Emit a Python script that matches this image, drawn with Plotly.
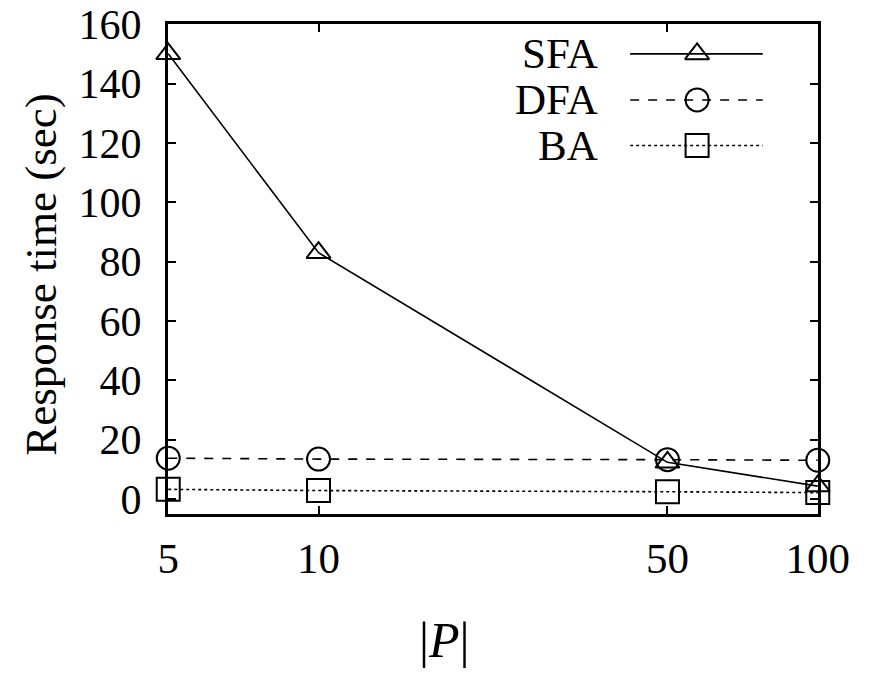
import plotly.graph_objects as go
import math

# Data
p_sizes = [5, 10, 50, 100]
sfa = [150, 83, 12.4, 4.4]
dfa = [13.8, 13.5, 13.3, 13.1]
ba = [3.3, 2.9, 2.5, 2.2]
y_ticks = [0, 20, 40, 60, 80, 100, 120, 140, 160]
x_ticks = [5, 10, 50, 100]

series = [
    ("SFA", sfa, "triangle-up-open", "solid", 21),
    ("DFA", dfa, "circle-open", "dash", 23),
    ("BA", ba, "square-open", "dot", 23),
]

FONT = "Liberation Serif, Times New Roman, serif"

fig = go.Figure()
for name, vals, sym, dash, msize in series:
    fig.add_trace(go.Scatter(
        x=p_sizes, y=vals, mode="lines+markers", name=name,
        line=dict(color="black", width=1.6, dash=dash),
        marker=dict(symbol=sym, size=msize, color="black", line=dict(width=2, color="black")),
        showlegend=False, cliponaxis=False,
    ))

# Custom legend (sample line with marker right of label)
leg_y = [0.939, 0.845, 0.752]
for (name, vals, sym, dash, msize), ly in zip(series, leg_y):
    fig.add_trace(go.Scatter(
        x=[0.711, 0.915], y=[ly, ly], xaxis="x2", yaxis="y2", mode="lines",
        line=dict(color="black", width=1.6, dash=dash), showlegend=False, hoverinfo="skip",
    ))
    fig.add_trace(go.Scatter(
        x=[0.814], y=[ly], xaxis="x2", yaxis="y2", mode="markers",
        marker=dict(symbol=sym, size=msize, color="black", line=dict(width=2, color="black")),
        showlegend=False, hoverinfo="skip",
    ))
    fig.add_annotation(x=0.665, y=ly, xref="x2", yref="y2", text=name, showarrow=False,
                       xanchor="right", yanchor="middle",
                       font=dict(family=FONT, size=43, color="black"))

# Axis titles as annotations
fig.add_annotation(x=0.426, y=-0.258, xref="paper", yref="paper", text="|<i>P</i>|",
                   showarrow=False, xanchor="center", yanchor="middle",
                   font=dict(family=FONT, size=50, color="black"))
fig.add_annotation(x=-0.195, y=0.489, xref="paper", yref="paper", text="Response time (sec)",
                   showarrow=False, xanchor="center", yanchor="middle", textangle=-90,
                   font=dict(family=FONT, size=45, color="black"))

fig.update_layout(
    width=869, height=673,
    margin=dict(l=160, r=59, t=16, b=167),
    paper_bgcolor="white", plot_bgcolor="white",
    font=dict(family=FONT, color="black"),
    xaxis=dict(
        type="log", range=[math.log10(5) - 0.0005, 2.0005],
        tickvals=x_ticks, ticktext=[str(v) for v in x_ticks],
        ticks="inside", ticklen=8, tickwidth=2, tickcolor="black",
        showline=True, linecolor="black", linewidth=3, mirror="ticks",
        showgrid=False, zeroline=False, automargin=False,
        ticklabelstandoff=4, ticklabeloverflow="allow",
        tickfont=dict(family=FONT, size=43, color="black"),
    ),
    yaxis=dict(
        range=[-5, 160.05], tickvals=y_ticks,
        ticks="inside", ticklen=8, tickwidth=2, tickcolor="black",
        showline=True, linecolor="black", linewidth=3, mirror="ticks",
        showgrid=False, zeroline=False, automargin=False,
        ticklabelstandoff=15, ticklabeloverflow="allow",
        tickfont=dict(family=FONT, size=42, color="black"),
    ),
    xaxis2=dict(overlaying="x", range=[0, 1], visible=False),
    yaxis2=dict(overlaying="y", range=[0, 1], visible=False),
)

fig.write_html("out.html")
